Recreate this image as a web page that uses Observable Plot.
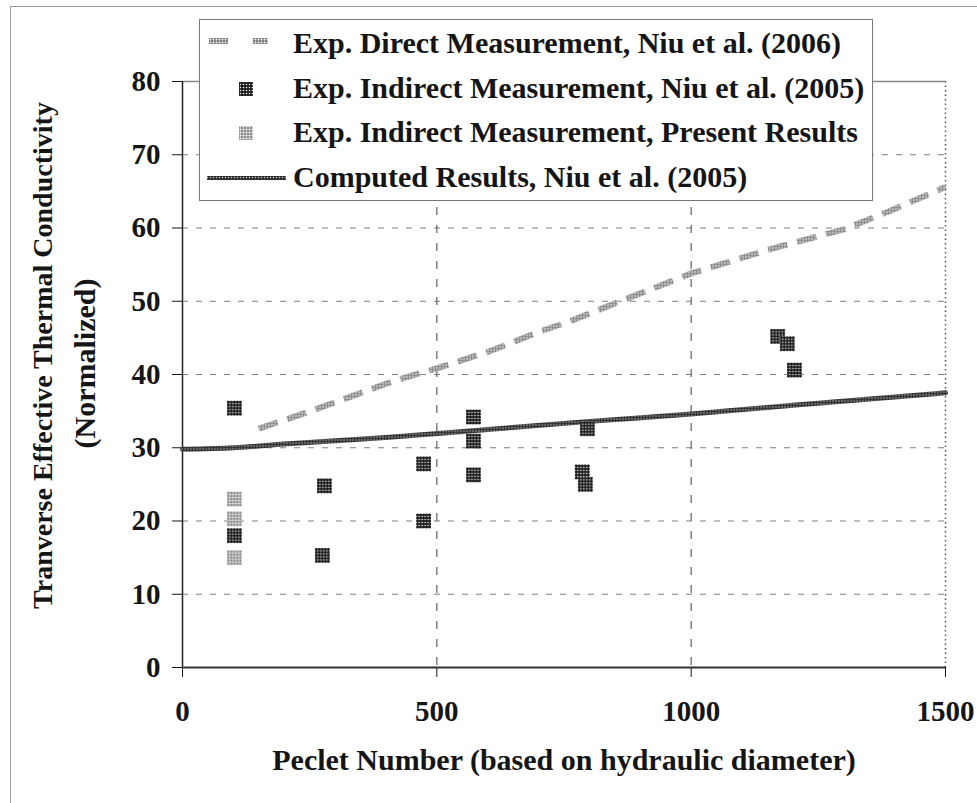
<!DOCTYPE html>
<html><head><meta charset="utf-8">
<script src="https://cdn.jsdelivr.net/npm/d3@7"></script>
<script src="https://cdn.jsdelivr.net/npm/@observablehq/plot@0.6"></script>
<style>
html,body{margin:0;padding:0;background:#fff;}
#wrap{position:relative;width:977px;height:803px;overflow:hidden;font-family:"Liberation Serif","Times New Roman",serif;font-weight:bold;}
#frame{position:absolute;left:10px;top:6px;width:1200px;height:1200px;border-left:1.5px solid #999;border-top:1.5px solid #999;}
#chart{position:absolute;left:0;top:0;}
#legend{position:absolute;left:199px;top:19px;width:674px;height:182px;border:1.2px solid #777;background:#fff;box-sizing:border-box;}
#legend svg{position:absolute;left:0;top:0;}
.row{position:absolute;left:93px;font-size:30px;line-height:30px;color:#151515;white-space:nowrap;}
</style></head><body>
<svg width="0" height="0" style="position:absolute">
  <defs>
    <pattern id="darkPat" width="3" height="3" patternUnits="userSpaceOnUse">
      <rect width="3" height="3" fill="#1e1e1e"/>
      <circle cx="1.5" cy="1.5" r="0.75" fill="#fff"/>
    </pattern>
    <pattern id="lightPat" width="3" height="3" patternUnits="userSpaceOnUse">
      <rect width="3" height="3" fill="#8e8e8e"/>
      <circle cx="1.5" cy="1.5" r="0.95" fill="#fff"/>
    </pattern>
    <pattern id="linePat" width="3" height="3" patternUnits="userSpaceOnUse">
      <rect width="3" height="3" fill="#7a7a7a"/>
      <circle cx="1.5" cy="1.5" r="0.9" fill="#fff"/>
    </pattern>
    <pattern id="compPat" width="3" height="3" patternUnits="userSpaceOnUse">
      <rect width="3" height="3" fill="#2e2e2e"/>
      <circle cx="1.5" cy="1.5" r="0.7" fill="#ddd"/>
    </pattern>
  </defs>
</svg>
<div id="wrap">
  <div id="frame"></div>
  <div id="chart"></div>
  <div id="legend">
    <svg width="674" height="182">
      <rect x="9" y="18" width="19" height="6" fill="url(#linePat)"/>
      <rect x="53" y="18" width="15" height="6" fill="url(#linePat)"/>
      <rect x="39" y="62" width="14" height="14" fill="url(#darkPat)"/>
      <rect x="39" y="106" width="14" height="14" fill="url(#lightPat)"/>
      <rect x="7" y="156" width="79" height="4" fill="url(#compPat)"/>
    </svg>
    <div class="row" style="top:8px">Exp. Direct Measurement, Niu et al. (2006)</div>
    <div class="row" style="top:53px">Exp. Indirect Measurement, Niu et al. (2005)</div>
    <div class="row" style="top:97px">Exp. Indirect Measurement, Present Results</div>
    <div class="row" style="top:142px">Computed Results, Niu et al. (2005)</div>
  </div>
</div>
<script>
// ---- data ----
const xTicks = [0, 500, 1000, 1500];
const yTicks = [0, 10, 20, 30, 40, 50, 60, 70, 80];
const yGrid = [10, 20, 30, 40, 50, 60, 70];
const xGrid = [500, 1000];

// Exp. Direct Measurement, Niu et al. (2006) (dashed line)
const directPe = [150, 260, 403, 444, 503, 605, 704, 763, 828, 1000, 1170, 1300, 1400, 1500];
const directK  = [32.6, 35.2, 38.8, 39.7, 40.9, 43.2, 45.9, 47.3, 49.1, 53.8, 57.4, 59.8, 62.6, 65.6];

// Exp. Indirect Measurement, Niu et al. (2005)
const niuPe = [102, 102, 275, 279, 474, 474, 572, 572, 572, 796, 786, 792, 1170, 1189, 1203];
const niuK  = [35.4, 18.0, 15.3, 24.8, 27.8, 20.0, 34.2, 30.9, 26.3, 32.6, 26.7, 25.0, 45.2, 44.2, 40.6];

// Exp. Indirect Measurement, Present Results
const presPe = [102, 102, 102];
const presK  = [23.0, 20.3, 15.0];

// Computed Results, Niu et al. (2005)
const compPe = [0, 100, 200, 400, 600, 800, 1000, 1200, 1500];
const compK  = [29.8, 30.0, 30.5, 31.4, 32.5, 33.6, 34.6, 35.8, 37.5];

const xTitle = "Peclet Number (based on hydraulic diameter)";
const yTitle1 = "Tranverse Effective Thermal Conductivity";
const yTitle2 = "(Normalized)";

const direct = directPe.map((x, i) => ({x, y: directK[i]}));
const niu = niuPe.map((x, i) => ({x, y: niuK[i]}));
const pres = presPe.map((x, i) => ({x, y: presK[i]}));
const comp = compPe.map((x, i) => ({x, y: compK[i]}));

const plot = Plot.plot({
  width: 977, height: 803,
  marginLeft: 182, marginRight: 32, marginTop: 81, marginBottom: 136,
  style: {fontFamily: "'Liberation Serif', 'Times New Roman', serif", fontWeight: "bold", fontSize: "29px", color: "#151515", background: "transparent", overflow: "visible"},
  x: {domain: [0, 1500], ticks: xTicks, tickSize: 10, tickPadding: 23, tickFormat: d3.format("d"), label: null},
  y: {domain: [0, 80], ticks: yTicks, tickSize: 10, tickPadding: 12, label: null},
  marks: [
    Plot.ruleY(yGrid, {stroke: "#808080", strokeWidth: 1, strokeDasharray: "6,8"}),
    Plot.ruleX(xGrid, {stroke: "#606060", strokeWidth: 1.2, strokeDasharray: "8,10"}),
    Plot.ruleX([1500], {stroke: "#555", strokeWidth: 1.5, strokeDasharray: "1.5,3"}),
    Plot.ruleY([80], {stroke: "#888", strokeWidth: 1.5}),
    Plot.ruleX([0], {stroke: "#222", strokeWidth: 1.5}),
    Plot.ruleY([0], {stroke: "#333", strokeWidth: 2}),
    Plot.line(direct, {x: "x", y: "y", stroke: "#020202", strokeWidth: 6, strokeDasharray: "20,10", strokeLinecap: "butt"}),
    Plot.line(comp, {x: "x", y: "y", stroke: "#030303", strokeWidth: 5, curve: "monotone-x"}),
    Plot.dot(niu, {x: "x", y: "y", symbol: "square", r: 8.4, fill: "#010101", stroke: "none"}),
    Plot.dot(pres, {x: "x", y: "y", symbol: "square", r: 8.4, fill: "#040404", stroke: "none"}),
    Plot.text([xTitle], {text: d => d, frameAnchor: "bottom", dy: 93, textAnchor: "middle", lineAnchor: "middle", fontSize: 30, fontWeight: "bold", fill: "#151515"}),
    Plot.text([yTitle1], {text: d => d, frameAnchor: "left", dx: -139, dy: -19, rotate: -90, textAnchor: "middle", lineAnchor: "middle", fontSize: 28, fontWeight: "bold", fill: "#151515"}),
    Plot.text([yTitle2], {text: d => d, frameAnchor: "left", dx: -97, dy: -11, rotate: -90, textAnchor: "middle", lineAnchor: "middle", fontSize: 30, fontWeight: "bold", fill: "#151515"})
  ]
});
document.getElementById("chart").appendChild(plot);
const sel = d3.select(plot);
const swap = (attr, from, to) => sel.selectAll(`[${attr}="${from}"]`).attr(attr, to);
swap("stroke", "#020202", "url(#linePat)");
swap("stroke", "#030303", "url(#compPat)");
swap("fill", "#010101", "url(#darkPat)");
swap("fill", "#040404", "url(#lightPat)");
</script>
</body></html>
